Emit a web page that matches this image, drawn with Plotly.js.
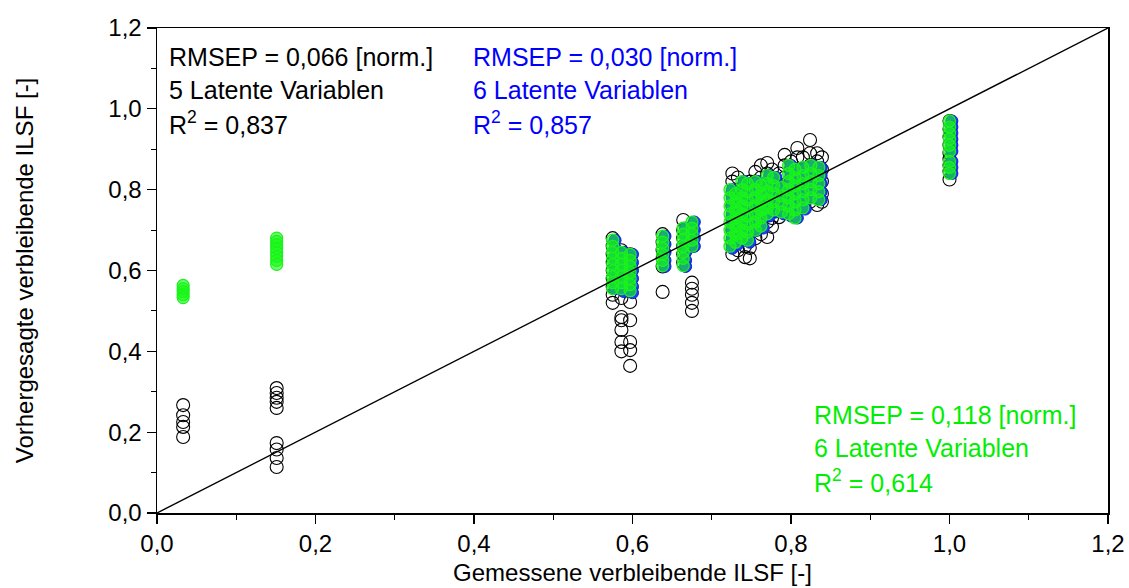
<!DOCTYPE html>
<html><head><meta charset="utf-8">
<script src="https://cdn.plot.ly/plotly-3.0.1.min.js"></script>
<style>html,body{margin:0;padding:0;background:#fff}#chart{width:1129px;height:588px}</style>
</head><body><div id="chart"></div>
<script>
// Measured (x) columns and predicted (y) values per column
const blackCols = [0.033, 0.151, 0.575, 0.586, 0.597, 0.638, 0.664, 0.675,
  0.726, 0.733, 0.742, 0.748, 0.755, 0.762, 0.770, 0.776, 0.785, 0.792, 0.800, 0.808, 0.815, 0.824, 0.833, 0.839, 1.0];
const blackVals = [
  [0.267, 0.242, 0.225, 0.213, 0.188],
  [0.309, 0.297, 0.285, 0.275, 0.26, 0.173, 0.157, 0.136, 0.114],
  [0.68, 0.66, 0.64, 0.62, 0.60, 0.58, 0.56, 0.54, 0.52],
  [0.65, 0.62, 0.59, 0.56, 0.532, 0.485, 0.477, 0.453, 0.423, 0.40],
  [0.64, 0.61, 0.58, 0.55, 0.522, 0.477, 0.423, 0.403, 0.364],
  [0.69, 0.67, 0.65, 0.63, 0.61, 0.547],
  [0.725, 0.70, 0.68, 0.66, 0.64, 0.62],
  [0.70, 0.68, 0.66, 0.57, 0.555, 0.54, 0.52, 0.50],
  [0.84, 0.82, 0.79, 0.76, 0.73, 0.70, 0.67, 0.64],
  [0.83, 0.80, 0.77, 0.74, 0.71, 0.68, 0.65],
  [0.78, 0.76, 0.72, 0.69, 0.66, 0.633],
  [0.82, 0.80, 0.75, 0.70, 0.656, 0.63],
  [0.844, 0.82, 0.79, 0.76, 0.73, 0.70, 0.68],
  [0.86, 0.83, 0.80, 0.77, 0.74, 0.71, 0.69],
  [0.866, 0.84, 0.81, 0.78, 0.75, 0.72, 0.683],
  [0.85, 0.82, 0.79, 0.76, 0.73, 0.708],
  [0.84, 0.81, 0.78, 0.75, 0.732],
  [0.886, 0.86, 0.83, 0.80, 0.77, 0.745],
  [0.87, 0.85, 0.82, 0.79, 0.76],
  [0.903, 0.88, 0.84, 0.81, 0.78, 0.757],
  [0.88, 0.85, 0.82, 0.79, 0.757],
  [0.923, 0.89, 0.86, 0.83, 0.80, 0.77],
  [0.89, 0.87, 0.84, 0.81, 0.78, 0.762],
  [0.88, 0.85, 0.82, 0.79, 0.77],
  [0.97, 0.95, 0.93, 0.91, 0.89, 0.875, 0.86, 0.845, 0.825]
];
const blueCols = [0.578, 0.589, 0.600, 0.641, 0.667, 0.678,
  0.726, 0.733, 0.741, 0.748, 0.758, 0.765, 0.773, 0.781, 0.791, 0.800, 0.808, 0.818, 0.828, 0.838, 1.003];
const blueVals = [
  [0.675, 0.655, 0.635, 0.615, 0.595, 0.575, 0.555],
  [0.645, 0.625, 0.605, 0.585, 0.565, 0.548],
  [0.64, 0.62, 0.60, 0.58, 0.56, 0.545],
  [0.685, 0.665, 0.645, 0.625, 0.61],
  [0.705, 0.685, 0.665, 0.645, 0.625, 0.61],
  [0.72, 0.70, 0.68, 0.66],
  [0.80, 0.78, 0.76, 0.74, 0.72, 0.70, 0.68, 0.655],
  [0.79, 0.77, 0.75, 0.73, 0.71, 0.69, 0.665],
  [0.82, 0.80, 0.78, 0.76, 0.74, 0.72, 0.70, 0.675],
  [0.815, 0.795, 0.775, 0.755, 0.735, 0.715, 0.69, 0.67],
  [0.82, 0.80, 0.78, 0.76, 0.74, 0.72, 0.70],
  [0.81, 0.79, 0.77, 0.75, 0.73, 0.705],
  [0.835, 0.815, 0.795, 0.775, 0.755, 0.735],
  [0.83, 0.81, 0.79, 0.77, 0.745],
  [0.805, 0.785, 0.765, 0.74],
  [0.86, 0.84, 0.82, 0.80, 0.78, 0.76, 0.735],
  [0.85, 0.83, 0.81, 0.79, 0.77, 0.75, 0.73],
  [0.855, 0.835, 0.815, 0.795, 0.775, 0.752],
  [0.86, 0.84, 0.82, 0.80, 0.78],
  [0.855, 0.835, 0.815, 0.795, 0.775],
  [0.97, 0.955, 0.94, 0.925, 0.91, 0.895, 0.87, 0.855, 0.84]
];
const greenCols = [0.033, 0.151, 0.575, 0.586, 0.597, 0.638, 0.664, 0.675,
  0.723, 0.730, 0.738, 0.745, 0.755, 0.762, 0.770, 0.778, 0.788, 0.797, 0.805, 0.815, 0.825, 0.835, 1.0];
const greenVals = [
  [0.563, 0.555, 0.548, 0.54, 0.533],
  [0.68, 0.672, 0.664, 0.655, 0.645, 0.635, 0.625, 0.615],
  [0.675, 0.66, 0.645, 0.63, 0.615, 0.60, 0.585, 0.57, 0.555],
  [0.645, 0.63, 0.615, 0.60, 0.585, 0.57, 0.555],
  [0.64, 0.625, 0.61, 0.595, 0.58, 0.565, 0.55],
  [0.685, 0.67, 0.655, 0.64, 0.625, 0.612],
  [0.705, 0.69, 0.675, 0.66, 0.645, 0.63, 0.612],
  [0.72, 0.705, 0.69, 0.675, 0.66],
  [0.80, 0.78, 0.76, 0.74, 0.72, 0.70, 0.68, 0.66],
  [0.79, 0.77, 0.75, 0.73, 0.71, 0.69, 0.67],
  [0.82, 0.80, 0.78, 0.76, 0.74, 0.72, 0.70, 0.68],
  [0.815, 0.795, 0.775, 0.755, 0.735, 0.715, 0.695, 0.675],
  [0.82, 0.80, 0.78, 0.76, 0.74, 0.72, 0.70],
  [0.81, 0.79, 0.77, 0.75, 0.73, 0.71],
  [0.835, 0.815, 0.795, 0.775, 0.755, 0.74],
  [0.83, 0.81, 0.79, 0.77, 0.75],
  [0.805, 0.785, 0.765, 0.745],
  [0.86, 0.84, 0.82, 0.80, 0.78, 0.76, 0.74],
  [0.85, 0.83, 0.81, 0.79, 0.77, 0.75, 0.73],
  [0.855, 0.835, 0.815, 0.795, 0.775, 0.755],
  [0.86, 0.84, 0.82, 0.80, 0.78],
  [0.855, 0.835, 0.815, 0.795, 0.775],
  [0.97, 0.955, 0.94, 0.925, 0.91, 0.895, 0.87, 0.855, 0.84]
];
const diagX = [0, 1.2];
const diagY = [0, 1.2];
const tickVals = [0, 0.2, 0.4, 0.6, 0.8, 1.0, 1.2];
const tickText = ['0,0', '0,2', '0,4', '0,6', '0,8', '1,0', '1,2'];
const statsBlack = ['RMSEP = 0,066 [norm.]', '5 Latente Variablen', 'R<sup>2</sup> = 0,837'];
const statsBlue = ['RMSEP = 0,030 [norm.]', '6 Latente Variablen', 'R<sup>2</sup> = 0,857'];
const statsGreen = ['RMSEP = 0,118 [norm.]', '6 Latente Variablen', 'R<sup>2</sup> = 0,614'];

function flatten(cols, vals) {
  const x = [], y = [];
  cols.forEach((c, i) => vals[i].forEach(v => { x.push(c); y.push(v); }));
  return {x, y};
}
const B = flatten(blackCols, blackVals);
const U = flatten(blueCols, blueVals);
const G = flatten(greenCols, greenVals);

const FONT = 'Liberation Sans, Arial, sans-serif';
const traces = [
  {type: 'scatter', mode: 'markers', x: B.x, y: B.y, cliponaxis: false,
   marker: {symbol: 'circle-open', size: 13, color: '#000', line: {width: 1.1, color: '#000'}}},
  {type: 'scatter', mode: 'markers', x: U.x, y: U.y,
   marker: {symbol: 'circle', size: 12, color: '#1f3cff', line: {width: 1, color: '#0a1ecc'}}},
  {type: 'scatter', mode: 'markers', x: G.x, y: G.y,
   marker: {symbol: 'circle', size: 12, color: 'rgba(20,250,20,0.6)', line: {width: 1.2, color: '#1ef01e'}}},
  {type: 'scatter', mode: 'lines', x: diagX, y: diagY, line: {color: '#000', width: 1.4}}
];

function block(lines, x, ys, color) {
  return lines.map((t, i) => ({xref: 'x', yref: 'y', x: x, y: ys[i], text: t, showarrow: false,
    xanchor: 'left', yanchor: 'middle', font: {family: FONT, size: 25, color: color}}));
}
const annotations = [].concat(
  block(statsBlack, 0.012, [1.128, 1.047, 0.965], '#000'),
  block(statsBlue, 0.396, [1.128, 1.047, 0.965], '#0000ff'),
  block(statsGreen, 0.827, [0.243, 0.162, 0.08], '#00ee00')
);

const axisCommon = {
  range: [0, 1.2], showgrid: false, zeroline: false, showline: true, linecolor: '#000', linewidth: 1.5,
  mirror: true, ticks: 'outside', ticklen: 9, tickwidth: 1.2, tickcolor: '#000',
  tickvals: tickVals, ticktext: tickText, tickfont: {family: FONT, size: 24, color: '#000'},
  minor: {ticks: 'outside', ticklen: 5, dtick: 0.1, tickcolor: '#000', tickwidth: 1},
  fixedrange: true
};
const layout = {
  width: 1129, height: 588, showlegend: false,
  margin: {l: 157, r: 21, t: 28, b: 75},
  paper_bgcolor: '#fff', plot_bgcolor: '#fff',
  font: {family: FONT, color: '#000'},
  xaxis: Object.assign({}, axisCommon, {title: {text: 'Gemessene verbleibende ILSF [-]', font: {family: FONT, size: 24}, standoff: 8}}),
  yaxis: Object.assign({}, axisCommon, {title: {text: 'Vorhergesagte verbleibende ILSF [-]', font: {family: FONT, size: 24}, standoff: 68}}),
  annotations: annotations
};
Plotly.newPlot('chart', traces, layout, {staticPlot: true});
</script></body></html>
